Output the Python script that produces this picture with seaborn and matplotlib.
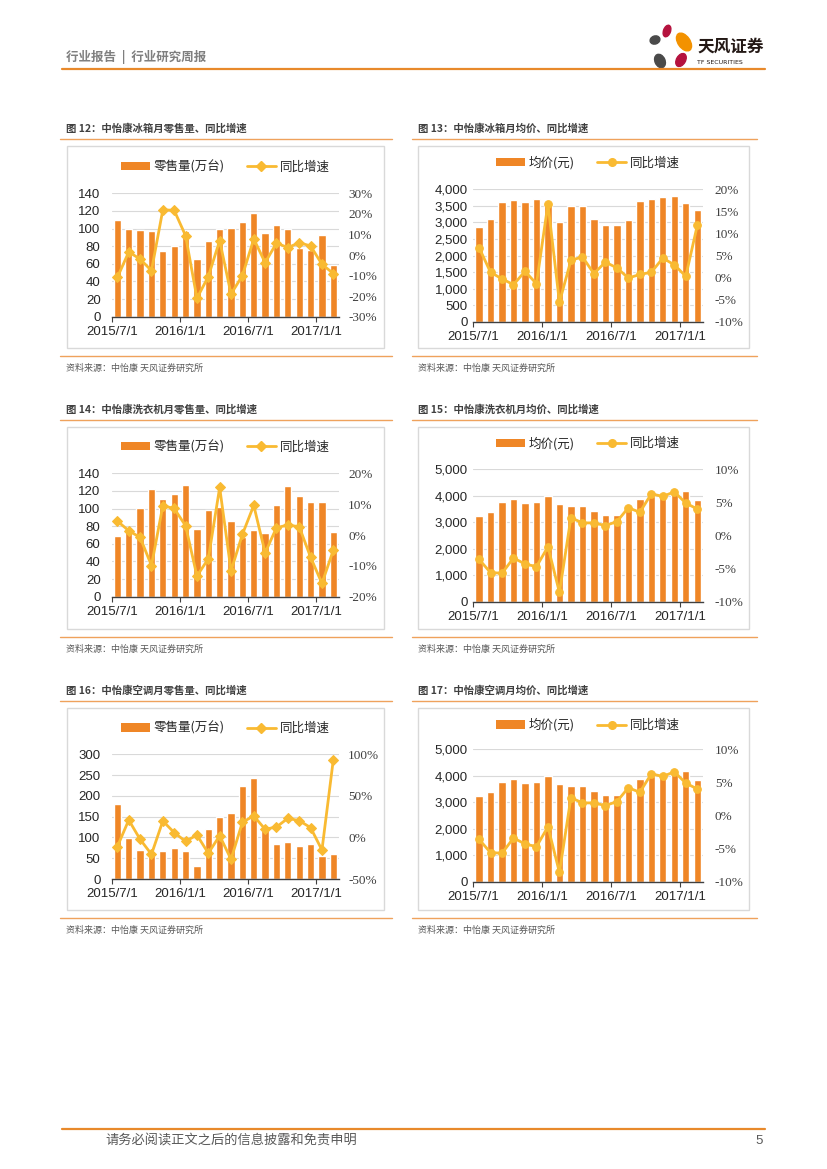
import numpy as np
import pandas as pd
import seaborn as sns
import matplotlib.pyplot as plt
from matplotlib.patches import Rectangle, Ellipse
from matplotlib.lines import Line2D

# ---------------------------------------------------------------------------
# data (2015/7 .. 2017/2, monthly)
# ---------------------------------------------------------------------------
months = ['2015/7', '2015/8', '2015/9', '2015/10', '2015/11', '2015/12',
          '2016/1', '2016/2', '2016/3', '2016/4', '2016/5', '2016/6',
          '2016/7', '2016/8', '2016/9', '2016/10', '2016/11', '2016/12',
          '2017/1', '2017/2']
x_tick_labels = ['2015/7/1', '2016/1/1', '2016/7/1', '2017/1/1']

fridge_sales = [110, 99, 98, 97, 74, 80, 97, 65, 86, 100, 101, 108,
                118, 95, 104, 100, 78, 76, 93, 59]
fridge_sales_yoy = [-10.9, 1.5, -2.0, -7.6, 22.0, 21.7, 9.4, -21.0, -10.5, 7.0,
                    -19.0, -10.0, 7.8, -3.7, 5.8, 3.6, 6.0, 4.4, -4.5, -9.0]

fridge_price = [2870, 3100, 3615, 3665, 3605, 3695, 3550, 3020, 3485, 3495,
                3100, 2930, 2920, 3080, 3645, 3705, 3755, 3785, 3595, 3365]
fridge_price_yoy = [6.8, 1.2, -0.3, -1.6, 1.4, -1.4, 16.7, -5.6, 3.9, 4.7,
                    0.9, 3.5, 2.2, -0.1, 0.7, 1.2, 4.4, 2.9, 0.3, 11.8]

washer_sales = [69, 78, 101, 122, 111, 116, 127, 77, 98, 102, 86, 68,
                76, 72, 104, 126, 114, 108, 107, 73]
washer_sales_yoy = [4.5, 1.4, -0.8, -9.9, 9.5, 8.6, 3.0, -13.3, -7.7, 15.4,
                    -11.6, 0.2, 9.6, -5.8, 2.4, 3.2, 2.7, -7.2, -15.7, -4.9]

washer_price = [3225, 3375, 3750, 3865, 3730, 3780, 3980, 3690, 3625, 3600,
                3440, 3260, 3275, 3500, 3880, 4000, 3950, 4100, 4180, 3830]
washer_price_yoy = [-3.6, -5.6, -5.7, -3.4, -4.3, -4.7, -1.7, -8.6, 2.7, 1.9,
                    1.9, 1.5, 2.1, 4.2, 3.5, 6.3, 5.9, 6.6, 4.9, 4.0]

ac_sales = [180, 98, 70, 62, 67, 75, 67, 31, 120, 148, 159, 224,
            242, 118, 83, 89, 79, 83, 56, 60]
ac_sales_yoy = [-11.0, 21.0, -2.3, -20.3, 19.8, 5.8, -4.7, 2.9, -19.0, 2.1,
                -26.3, 18.2, 25.9, 9.8, 12.6, 23.0, 20.2, 11.8, -15.1, 93.6]

ac_price = [3225, 3375, 3750, 3865, 3730, 3780, 3980, 3690, 3625, 3600,
            3440, 3260, 3275, 3500, 3880, 4000, 3950, 4100, 4180, 3830]
ac_price_yoy = [-3.6, -5.6, -5.7, -3.4, -4.3, -4.7, -1.7, -8.6, 2.7, 1.9,
                1.9, 1.5, 2.1, 4.2, 3.5, 6.3, 5.9, 6.6, 4.9, 4.0]

BAR = '#EF8626'
LINE = '#F9BA32'
RULE = '#EFA25C'
CJK = 'Noto Sans CJK SC'
W, H = 827, 1169

sns.set_style('white')
plt.rcParams['font.family'] = [CJK, 'DejaVu Sans']


def px_rect(x0, y_top, x1, y_bottom):
    '''pixel box (origin top left) -> figure fraction rect'''
    return [x0 / W, 1 - y_bottom / H, (x1 - x0) / W, (y_bottom - y_top) / H]


def bar_line_chart(fig, box, bars, yoy, bar_label, marker, left_ticks,
                   right_ticks, legend_y, left_pad, right_pad, comma=False):
    '''Bars on the left axis, yoy growth line on the right axis.'''
    x0, y_top, x1, y_bottom = box
    ax = fig.add_axes(px_rect(x0, y_top, x1, y_bottom))
    ax.patch.set_visible(False)
    idx = np.arange(len(months))
    df = pd.DataFrame({'pos': idx, 'value': bars, 'yoy': yoy})

    sns.barplot(data=df, x='pos', y='value', color=BAR, saturation=1,
                width=0.64, ax=ax, zorder=2)
    ax.set_axisbelow(True)
    ax.set_ylim(left_ticks[0], left_ticks[-1])
    if comma:
        ylabels = ['{:,}'.format(t) for t in left_ticks]
    else:
        ylabels = [str(t) for t in left_ticks]
    ax.set_yticks(left_ticks, labels=ylabels, fontfamily='Liberation Sans',
                  fontsize=9.5)
    ax.grid(axis='y', color='#D9D9D9', linewidth=0.8)
    ax.grid(axis='x', visible=False)
    for side in ['top', 'left', 'right']:
        ax.spines[side].set_visible(False)
    ax.spines['bottom'].set_color('#404040')
    ax.spines['bottom'].set_linewidth(1.0)
    ax.spines['bottom'].set_zorder(3)
    ax.set_xlabel('')
    ax.set_ylabel('')

    ax2 = ax.twinx()
    sns.lineplot(data=df, x='pos', y='yoy', ax=ax2, color=LINE, marker=marker,
                 markersize=5.5, markeredgecolor=LINE, linewidth=2)
    ax2.set_ylim(right_ticks[0], right_ticks[-1])
    ax2.set_yticks(right_ticks, labels=['{}%'.format(t) for t in right_ticks],
                   fontfamily='Liberation Serif', fontsize=9.5, color='#404040')
    ax2.tick_params(axis='y', length=0, pad=right_pad)
    ax2.set_ylabel('')
    for side in ax2.spines:
        ax2.spines[side].set_visible(False)
    ax2.grid(False)

    ax.set_xlim(-0.5, len(months) - 0.5)
    ax.set_xticks([-0.5, 5.5, 11.5, 17.5], labels=x_tick_labels,
                  fontfamily='Liberation Sans', fontsize=9.5)
    ax.tick_params(axis='x', bottom=True, length=3.5, width=0.8,
                   color='#404040', pad=3, labelcolor='#262626')
    ax.tick_params(axis='y', length=0, pad=left_pad, labelcolor='#262626')

    handles = [Rectangle((0, 0), 1, 1, facecolor=BAR, edgecolor='none'),
               Line2D([], [], color=LINE, marker=marker, markersize=5.5,
                      linewidth=2)]
    h_px = y_bottom - y_top
    ax2.legend(handles, [bar_label, '同比增速'], loc='center',
               bbox_to_anchor=(0.5, 1 + (y_top - legend_y) / h_px), ncol=2,
               frameon=False, prop={'family': [CJK, 'DejaVu Sans'], 'size': 9},
               handlelength=2.3, handleheight=0.65, handletextpad=0.3,
               columnspacing=1.8, labelcolor='#262626')
    return ax, ax2


fig = plt.figure(figsize=(8.27, 11.69), dpi=100)
bg = fig.add_axes([0, 0, 1, 1])
bg.set_xlim(0, W)
bg.set_ylim(H, 0)
bg.axis('off')

# page header
bg.text(66, 57, '行业报告  |  行业研究周报', fontsize=9, color='#7F7F7F',
        va='center', fontweight='bold')
bg.plot([62, 765], [69, 69], color='#E8892B', linewidth=1.6)
for (cx, cy, w, h, ang, col) in [(667, 31, 7, 12, 20, '#B5123E'),
                                 (684, 42, 12, 20, -35, '#F39200'),
                                 (655, 40, 10, 8, -20, '#4A4A4A'),
                                 (681, 60, 9, 14, 30, '#B5123E'),
                                 (660, 61, 10, 14, -25, '#4A4A4A')]:
    bg.add_patch(Ellipse((cx, cy), w, h, angle=ang, color=col))
bg.text(697, 47, '天风证券', fontsize=12, fontweight='bold', color='#231815',
        va='center')
bg.text(697, 62, 'TF SECURITIES', fontsize=4.5, color='#231815', va='center',
        family='DejaVu Sans')

# footer
bg.plot([62, 765], [1129, 1129], color='#E8892B', linewidth=1.6)
bg.text(105, 1141, '请务必阅读正文之后的信息披露和免责申明', fontsize=9.5,
        color='#595959', va='center')
bg.text(755, 1141, '5', fontsize=9.5, color='#595959', va='center',
        family='Liberation Sans')

titles = [['图 12：中怡康冰箱月零售量、同比增速', '图 13：中怡康冰箱月均价、同比增速'],
          ['图 14：中怡康洗衣机月零售量、同比增速', '图 15：中怡康洗衣机月均价、同比增速'],
          ['图 16：中怡康空调月零售量、同比增速', '图 17：中怡康空调月均价、同比增速']]
row_offsets = [0, 281, 562]
columns = [(60, 392, 67, 384, 66), (412, 757, 418, 749, 418)]

for r, off in enumerate(row_offsets):
    for c, (lx0, lx1, bx0, bx1, tx) in enumerate(columns):
        bg.text(tx, 128 + off, titles[r][c], fontsize=7.5, fontweight='bold',
                color='#404040', va='center')
        bg.plot([lx0, lx1], [139 + off, 139 + off], color=RULE, linewidth=1)
        bg.add_patch(Rectangle((bx0, 146 + off), bx1 - bx0, 202,
                               facecolor='white', edgecolor='#D9D9D9',
                               linewidth=1))
        bg.plot([lx0, lx1], [356 + off, 356 + off], color=RULE, linewidth=1)
        bg.text(tx, 368 + off, '资料来源：中怡康 天风证券研究所', fontsize=6.5,
                color='#595959', va='center')

bar_line_chart(fig, (111.7, 193.3, 339, 316.7), fridge_sales, fridge_sales_yoy,
               '零售量(万台)', 'D', list(range(0, 141, 20)),
               list(range(-30, 31, 10)), 166.7, 8, 6.5)
bar_line_chart(fig, (473.3, 189.3, 703, 321.7), fridge_price, fridge_price_yoy,
               '均价(元)', 'o', list(range(0, 4001, 500)),
               list(range(-10, 21, 5)), 162.7, 4, 8.5, comma=True)
bar_line_chart(fig, (111.7, 473.3, 339, 596.7), washer_sales, washer_sales_yoy,
               '零售量(万台)', 'D', list(range(0, 141, 20)),
               list(range(-20, 21, 10)), 446.7, 8, 6.5)
bar_line_chart(fig, (473.3, 469.3, 703, 601.7), washer_price, washer_price_yoy,
               '均价(元)', 'o', list(range(0, 5001, 1000)),
               list(range(-10, 11, 5)), 443.3, 4, 8.5, comma=True)
bar_line_chart(fig, (111.7, 754.3, 339, 879), ac_sales, ac_sales_yoy,
               '零售量(万台)', 'D', list(range(0, 301, 50)),
               list(range(-50, 101, 50)), 728.3, 8, 6.5)
bar_line_chart(fig, (473.3, 749.3, 703, 881.7), ac_price, ac_price_yoy,
               '均价(元)', 'o', list(range(0, 5001, 1000)),
               list(range(-10, 11, 5)), 725, 4, 8.5, comma=True)

fig.savefig('out.png', dpi=100)
